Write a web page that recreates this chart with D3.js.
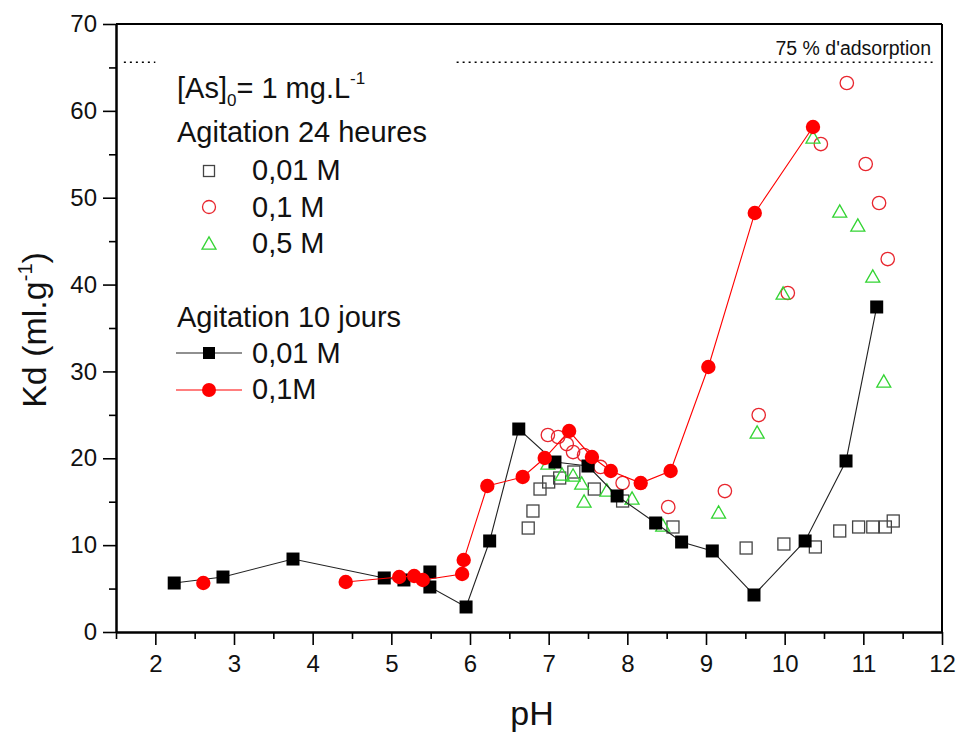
<!DOCTYPE html>
<html><head><meta charset="utf-8">
<script src="https://cdn.jsdelivr.net/npm/d3@7/dist/d3.min.js"></script>
<style>
html,body{margin:0;padding:0;background:#fff;}
svg{display:block;font-family:"Liberation Sans",Arial,sans-serif;}
</style></head>
<body><svg id="chart" width="960" height="733"></svg>
<script>
// ---- Data (pH, Kd) ----
// Agitation 10 jours, 0,01 M (filled squares, line)
const jours10_001 = [[2.24,5.64],[2.86,6.33],[3.75,8.40],[4.91,6.22],[5.16,5.99],[5.49,6.91],[5.49,5.18],[5.95,2.88],[6.25,10.48],[6.62,23.37],[7.08,19.57],[7.50,19.11],[7.87,15.66],[8.36,12.55],[8.69,10.36],[9.08,9.33],[9.61,4.26],[10.26,10.48],[10.78,19.69],[11.17,37.42]];
// Agitation 10 jours, 0,1 M (filled circles, line; first point not joined)
const jours10_01 = [[2.61,5.64],[4.42,5.76],[5.10,6.33],[5.29,6.45],[5.40,5.99],[5.90,6.68],[5.92,8.29],[6.22,16.81],[6.67,17.85],[6.95,20.03],[7.26,23.14],[7.55,20.15],[7.79,18.54],[8.17,17.15],[8.55,18.54],[9.03,30.51],[9.62,48.24],[10.36,58.14]];
// Agitation 24 heures, 0,01 M (open squares)
const heures24_001 = [[6.74,11.97],[6.80,13.93],[6.89,16.46],[7.00,17.27],[7.14,17.73],[7.32,18.42],[7.58,16.46],[7.94,15.08],[8.58,12.09],[9.51,9.67],[9.99,10.13],[10.39,9.79],[10.70,11.63],[10.94,12.09],[11.12,12.09],[11.28,12.09],[11.38,12.78]];
// Agitation 24 heures, 0,1 M (open circles)
const heures24_01 = [[6.99,22.68],[7.12,22.45],[7.23,21.64],[7.31,20.72],[7.45,20.38],[7.66,19.00],[7.94,17.15],[8.52,14.39],[9.24,16.23],[9.67,24.98],[10.04,39.03],[10.46,56.18],[10.79,63.21],[11.03,53.88],[11.20,49.39],[11.31,42.94]];
// Agitation 24 heures, 0,5 M (open triangles)
const heures24_05 = [[6.99,19.46],[7.17,18.19],[7.31,18.08],[7.42,17.15],[7.45,15.08],[7.74,16.35],[8.06,15.43],[8.45,12.32],[9.16,13.82],[9.65,23.03],[9.98,39.03],[10.36,56.99],[10.70,48.47],[10.93,46.86],[11.12,40.99],[11.26,28.90]];
// 75 % adsorption reference level
const adsorptionLevel = 65.6;
const xTicks = [2,3,4,5,6,7,8,9,10,11,12];
const xMinor = [1.5,2.5,3.5,4.5,5.5,6.5,7.5,8.5,9.5,10.5,11.5];
const yTicks = [0,10,20,30,40,50,60,70];
const yMinor = [5,15,25,35,45,55,65];

// ---- Layout ----
const W = 960, H = 733;
const m = {left:116, top:24, right:18, bottom:101};
const iw = W - m.left - m.right, ih = H - m.top - m.bottom;
const svg = d3.select("#chart");
const g = svg.append("g").attr("transform",`translate(${m.left},${m.top})`);
const x = d3.scaleLinear().domain([1.5,12]).range([0,iw]);
const y = d3.scaleLinear().domain([0,70]).range([ih,0]);

const BLACK="#000", LINEBLK="#222", RED="#ff0000", OPENRED="#e8262e", GREEN="#33d433", GREY="#444";

// box top/right
g.append("line").attr("x1",0).attr("x2",iw).attr("y1",0).attr("y2",0).attr("stroke","#000").attr("stroke-width",2);
g.append("line").attr("x1",iw).attr("x2",iw).attr("y1",0).attr("y2",ih).attr("stroke","#000").attr("stroke-width",2);

// axes
g.append("g").attr("transform",`translate(0,${ih})`)
  .call(d3.axisBottom(x).tickValues(xTicks).tickFormat(d3.format("d")).tickSize(13).tickPadding(10).tickSizeOuter(0));
g.append("g").attr("transform",`translate(0,${ih})`)
  .call(d3.axisBottom(x).tickValues(xMinor).tickFormat("").tickSize(7).tickSizeOuter(0));
g.append("g")
  .call(d3.axisLeft(y).tickValues(yTicks).tickFormat(d3.format("d")).tickSize(13).tickPadding(6).tickSizeOuter(0));
g.append("g").call(d3.axisLeft(y).tickValues(yMinor).tickFormat("").tickSize(7).tickSizeOuter(0));
g.selectAll(".domain").attr("stroke","#000").attr("stroke-width",2);
g.selectAll(".tick line").attr("stroke","#000").attr("stroke-width",1.6);
g.selectAll(".tick text").attr("font-size",24).attr("fill","#111").attr("font-family","Liberation Sans, Arial, sans-serif");

// axis titles
svg.append("text").attr("x",532).attr("y",725).attr("text-anchor","middle").attr("font-size",34).attr("fill","#111").text("pH");
const yt = svg.append("text").attr("transform","translate(46,330) rotate(-90)").attr("text-anchor","middle").attr("font-size",34).attr("fill","#111");
yt.append("tspan").text("Kd (ml.g");
yt.append("tspan").attr("font-size",20).attr("dy",-14).text("-1");
yt.append("tspan").attr("dy",14).text(")");

// 75 % line
const dotted = [[1.6,2.0],[5.83,11.88]];
g.selectAll(".ref").data(dotted).join("line")
  .attr("x1",d=>x(d[0])).attr("x2",d=>x(d[1]))
  .attr("y1",y(adsorptionLevel)).attr("y2",y(adsorptionLevel))
  .attr("stroke","#000").attr("stroke-width",1.4).attr("stroke-dasharray","2,4");
g.append("text").attr("x",x(11.86)).attr("y",y(adsorptionLevel)-7).attr("text-anchor","end")
  .attr("font-size",19.5).attr("fill","#111").text("75 % d'adsorption");

// symbol helpers
function openSquare(sel, s){ sel.append("rect").attr("x",-s/2).attr("y",-s/2).attr("width",s).attr("height",s).attr("fill","none").attr("stroke",GREY).attr("stroke-width",1.3); }
function openCircle(sel, r){ sel.append("circle").attr("r",r).attr("fill","none").attr("stroke",OPENRED).attr("stroke-width",1.3); }
function openTri(sel, w){ const h=w*0.88; sel.append("path").attr("d",`M0,${-h/2}L${w/2},${h/2}L${-w/2},${h/2}Z`).attr("fill","none").attr("stroke",GREEN).attr("stroke-width",1.3); }
function fillSquare(sel, s){ sel.append("rect").attr("x",-s/2).attr("y",-s/2).attr("width",s).attr("height",s).attr("fill",BLACK); }
function fillCircle(sel, r){ sel.append("circle").attr("r",r).attr("fill",RED); }

// 24 h open markers
g.append("g").selectAll("g").data(heures24_001).join("g")
  .attr("transform",d=>`translate(${x(d[0])},${y(d[1])})`).each(function(){ openSquare(d3.select(this),12); });
g.append("g").selectAll("g").data(heures24_01).join("g")
  .attr("transform",d=>`translate(${x(d[0])},${y(d[1])})`).each(function(){ openCircle(d3.select(this),6.7); });
g.append("g").selectAll("g").data(heures24_05).join("g")
  .attr("transform",d=>`translate(${x(d[0])},${y(d[1])})`).each(function(){ openTri(d3.select(this),14); });

// 10 jours lines + filled markers
const line = d3.line().x(d=>x(d[0])).y(d=>y(d[1]));
g.append("path").datum(jours10_001).attr("d",line).attr("fill","none").attr("stroke",LINEBLK).attr("stroke-width",1.1);
g.append("g").selectAll("g").data(jours10_001).join("g")
  .attr("transform",d=>`translate(${x(d[0])},${y(d[1])})`).each(function(){ fillSquare(d3.select(this),13); });
g.append("path").datum(jours10_01.slice(1)).attr("d",line).attr("fill","none").attr("stroke",RED).attr("stroke-width",1.1);
g.append("g").selectAll("g").data(jours10_01).join("g")
  .attr("transform",d=>`translate(${x(d[0])},${y(d[1])})`).each(function(){ fillCircle(d3.select(this),7.2); });

// legend
const fs = 29;
const leg = svg.append("g").attr("font-size",fs).attr("fill","#111");
const t0 = leg.append("text").attr("x",177).attr("y",98);
t0.append("tspan").text("[As]");
t0.append("tspan").attr("font-size",17).attr("dy",8).text("0");
t0.append("tspan").attr("dy",-8).text("= 1 mg.L");
t0.append("tspan").attr("font-size",17).attr("dy",-14).text("-1");
leg.append("text").attr("x",177).attr("y",142).text("Agitation 24 heures");
leg.append("text").attr("x",252).attr("y",180).text("0,01 M");
leg.append("text").attr("x",252).attr("y",217).text("0,1 M");
leg.append("text").attr("x",252).attr("y",253).text("0,5 M");
leg.append("text").attr("x",177).attr("y",327).text("Agitation 10 jours");
leg.append("text").attr("x",252).attr("y",363).text("0,01 M");
leg.append("text").attr("x",252).attr("y",399).text("0,1M");
openSquare(leg.append("g").attr("transform","translate(209,171)"),11);
openCircle(leg.append("g").attr("transform","translate(209,207)"),6.5);
openTri(leg.append("g").attr("transform","translate(209,243)"),14);
leg.append("line").attr("x1",176).attr("x2",242).attr("y1",353).attr("y2",353).attr("stroke",LINEBLK).attr("stroke-width",1.1);
fillSquare(leg.append("g").attr("transform","translate(209,353)"),12);
leg.append("line").attr("x1",176).attr("x2",242).attr("y1",390).attr("y2",390).attr("stroke",RED).attr("stroke-width",1.1);
fillCircle(leg.append("g").attr("transform","translate(209,390)"),7);
</script></body></html>
